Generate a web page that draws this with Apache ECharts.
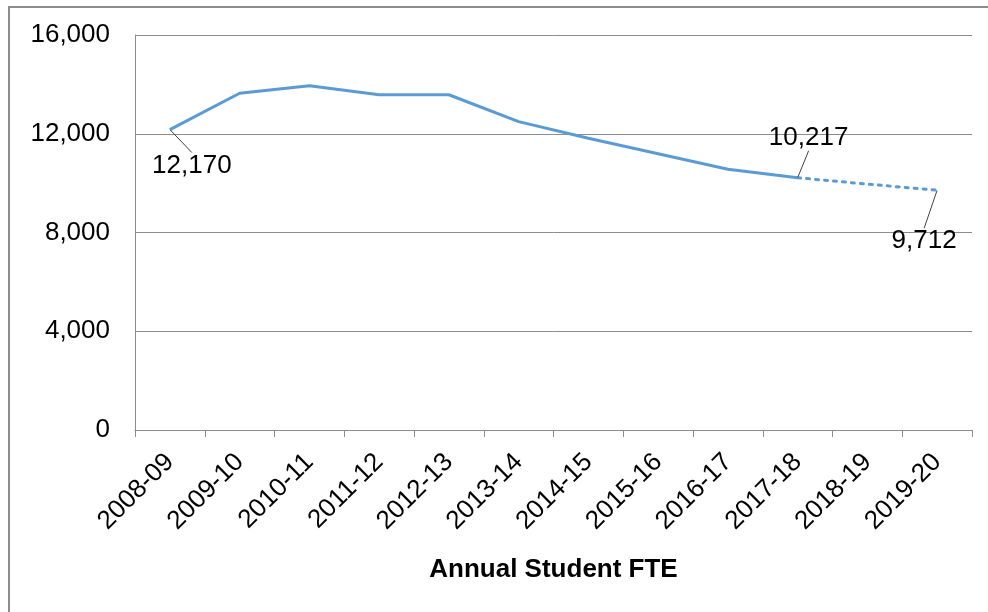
<!DOCTYPE html>
<html>
<head>
<meta charset="utf-8">
<script src="https://cdn.jsdelivr.net/npm/echarts@6/dist/echarts.min.js"></script>
<style>
	html, body {margin: 0; padding: 0; background: #fff;}
	#frame {position: absolute; left: 8px; top: 6px; width: 980px; height: 606px; border-top: 2px solid #8c8c8c; border-left: 2px solid #8c8c8c;}
	#main {position: absolute; left: 0; top: 0; width: 988px; height: 612px;}
</style>
</head>
<body>
<div id="frame"></div>
<div id="main"></div>
<script>
var years = ['2008-09','2009-10','2010-11','2011-12','2012-13','2013-14','2014-15','2015-16','2016-17','2017-18','2018-19','2019-20'];
// actual FTE up to 2017-18
var actualFte = [12170, 13640, 13940, 13580, 13580, 12490, 11820, 11190, 10560, 10217];
// projection 2017-18 .. 2019-20
var projectedFte = [10217, 9960, 9712];
var yTicks = [0, 4000, 8000, 12000, 16000];
// points that carry a value label, with where the label sits
var labelled = {0: [22, 36], 9: [11, -40], 11: [-13, 51]};

var fmt = function(v){
	return String(v).replace(/\B(?=(\d{3})+(?!\d))/g, ',');
};

var toItems = function(arr, offset){
	var out = [];
	for (var i = 0; i < offset; i++) out.push(null);
	arr.forEach(function(v, i){
		var idx = i + offset;
		var show = labelled[idx] !== undefined;
		if (offset > 0 && idx === 9) show = false;
		out.push({value: v, label: {show: show}, labelLine: {show: show}});
	});
	return out;
};

var font = 'Liberation Sans, Arial, sans-serif';
var lineColor = '#5b9bd5';
var labelStyle = {
	position: 'inside',
	fontFamily: font,
	fontSize: 26,
	color: '#000',
	formatter: function(p){ return fmt(p.value); }
};
var layoutFn = function(p){
	var o = labelled[p.dataIndex];
	if (!o) return {};
	return {dx: o[0], dy: o[1]};
};

var chart = echarts.init(document.getElementById('main'));
chart.setOption({
	animation: false,
	grid: {left: 135, right: 16, top: 35, bottom: 182, containLabel: false},
	xAxis: {
		type: 'category',
		data: years,
		boundaryGap: true,
		name: 'Annual Student FTE',
		nameLocation: 'middle',
		nameGap: 127,
		nameTextStyle: {fontFamily: font, fontSize: 26, fontWeight: 'bold', color: '#000'},
		axisLine: {lineStyle: {color: '#8c8c8c', width: 1}},
		axisTick: {show: true, alignWithLabel: false, length: 7, lineStyle: {color: '#8c8c8c'}},
		axisLabel: {
			rotate: 45, interval: 0, margin: 28,
			fontFamily: font, fontSize: 26, color: '#000'
		}
	},
	yAxis: {
		type: 'value',
		min: yTicks[0],
		max: yTicks[yTicks.length - 1],
		interval: yTicks[1] - yTicks[0],
		axisLine: {show: true, lineStyle: {color: '#8c8c8c', width: 1}},
		axisTick: {show: false},
		splitLine: {lineStyle: {color: '#8c8c8c', width: 1}},
		axisLabel: {
			margin: 25,
			fontFamily: font, fontSize: 26, color: '#000',
			formatter: function(v){ return fmt(v); }
		}
	},
	series: [{
		name: 'Actual',
		type: 'line',
		data: toItems(actualFte, 0),
		symbol: 'circle',
		symbolSize: 1,
		showSymbol: true,
		itemStyle: {color: 'rgba(0,0,0,0)'},
		lineStyle: {color: lineColor, width: 3},
		label: labelStyle,
		labelLine: {lineStyle: {color: '#404040', width: 1}},
		labelLayout: layoutFn,
		z: 3
	}, {
		name: 'Projected',
		type: 'line',
		data: toItems(projectedFte, 9),
		symbol: 'circle',
		symbolSize: 1,
		showSymbol: true,
		itemStyle: {color: 'rgba(0,0,0,0)'},
		lineStyle: {color: lineColor, width: 3, type: [3, 6], cap: 'round'},
		label: labelStyle,
		labelLine: {lineStyle: {color: '#404040', width: 1}},
		labelLayout: layoutFn,
		z: 2
	}]
});
</script>
</body>
</html>
